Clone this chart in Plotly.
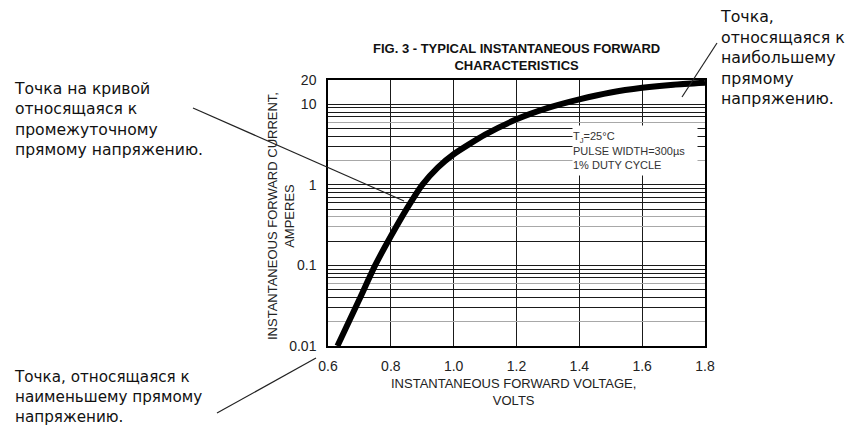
import plotly.graph_objects as go

# ---- data ----
voltage = [0.63, 0.70, 0.75, 0.80, 0.85, 0.90, 0.95, 1.00, 1.10, 1.20, 1.30, 1.40, 1.50, 1.60, 1.70, 1.80]
current = [0.01, 0.038, 0.10, 0.23, 0.50, 1.0, 1.65, 2.4, 4.2, 6.5, 9.0, 11.5, 14.0, 16.0, 17.5, 18.5]

x_ticks = [0.6, 0.8, 1.0, 1.2, 1.4, 1.6, 1.8]
x_ticktext = ["0.6", "0.8", "1.0", "1.2", "1.4", "1.6", "1.8"]
y_ticks = [0.01, 0.1, 1, 10, 20]
y_ticktext = ["0.01", "0.1", "1", "10", "20"]
y_minor_dark = [0.03, 0.04, 0.05, 0.07, 0.08, 0.09,
                0.2, 0.5, 0.6, 0.7, 0.8, 0.9,
                3, 4, 5, 7, 8, 9]
y_minor_light = [0.02, 0.06, 0.3, 0.4, 2, 6]

title_text = "<b>FIG. 3 - TYPICAL INSTANTANEOUS FORWARD<br>CHARACTERISTICS</b>"
xtitle_text = "INSTANTANEOUS FORWARD VOLTAGE,<br>VOLTS"
ytitle_text = "INSTANTANEOUS FORWARD CURRENT,<br>AMPERES"
cond_text = "T<sub>J</sub>=25°C<br>PULSE WIDTH=300µs<br>1% DUTY CYCLE"
note_mid = "Точка на кривой<br>относящаяся к<br>промежуточному<br>прямому напряжению."
note_low = "Точка, относящаяся к<br>наименьшему прямому<br>напряжению."
note_high = "Точка,<br>относящаяся к<br>наибольшему<br>прямому<br>напряжению."

# ---- layout geometry (window pixels); page body has an 8px margin ----
OFF = 8
W, H = 854 - OFF, 425 - OFF
L, R, T, B = 328, 705, 80, 346


def px(x, y):
    return (x - L) / (R - L), (B - y) / (B - T)


sans = "Liberation Sans, Arial, sans-serif"
deja = "DejaVu Sans, sans-serif"

fig = go.Figure()
fig.add_trace(go.Scatter(
    x=voltage, y=current, mode="lines",
    line=dict(color="black", width=6, shape="spline", smoothing=0.6),
    showlegend=False, hoverinfo="skip"))

fig.update_layout(
    width=W, height=H,
    margin=dict(l=L - OFF, r=854 - R, t=T - OFF, b=425 - B, pad=0),
    paper_bgcolor="white", plot_bgcolor="white",
    showlegend=False,
    xaxis=dict(
        range=[0.6, 1.8], tickvals=x_ticks, ticktext=x_ticktext,
        showgrid=True, gridcolor="#1a1a1a", gridwidth=1,
        showline=True, linecolor="black", linewidth=1.5, mirror=True,
        ticks="", ticklabelstandoff=6, zeroline=False,
        tickfont=dict(family=sans, size=14, color="#222"),
    ),
    yaxis=dict(
        type="log", range=[-2, 1.30103], tickvals=y_ticks, ticktext=y_ticktext,
        showgrid=True, gridcolor="#1a1a1a", gridwidth=1,
        showline=True, linecolor="black", linewidth=1.5, mirror=True,
        ticks="", ticklabelstandoff=7, zeroline=False,
        tickfont=dict(family=sans, size=14, color="#222"),
        minor=dict(tickvals=y_minor_dark, showgrid=True, gridcolor="#1a1a1a", gridwidth=1, ticks=""),
    ),
    yaxis2=dict(
        type="log", range=[-2, 1.30103], overlaying="y", side="left",
        tickvals=y_minor_light, showticklabels=False,
        showgrid=True, gridcolor="#a8a8a8", gridwidth=1, ticks="", zeroline=False,
    ),
)

# empty trace that switches on the light-grid axis
fig.add_trace(go.Scatter(x=[None], y=[None], yaxis="y2", showlegend=False, hoverinfo="skip"))

ann = []
cx, cy = px(516.5, 57)
ann.append(dict(text=title_text, x=cx, y=cy, xref="paper", yref="paper",
                xanchor="center", yanchor="middle", showarrow=False,
                font=dict(family=sans, size=13, color="#111")))
cx, cy = px(513, 392)
ann.append(dict(text=xtitle_text, x=cx, y=cy, xref="paper", yref="paper",
                xanchor="center", yanchor="middle", showarrow=False,
                font=dict(family=sans, size=13, color="#222")))
cx, cy = px(281, 216)
ann.append(dict(text=ytitle_text, x=cx, y=cy, xref="paper", yref="paper",
                xanchor="center", yanchor="middle", showarrow=False, textangle=-90,
                font=dict(family=sans, size=13, color="#222")))
cx, cy = px(635, 150.5)
ann.append(dict(text=cond_text, x=cx, y=cy, xref="paper", yref="paper",
                xanchor="center", yanchor="middle", showarrow=False,
                width=124, height=49, align="left", bgcolor="white", borderpad=0,
                font=dict(family=sans, size=11, color="#333")))
cx, cy = px(12, 119)
ann.append(dict(text=note_mid, x=cx, y=cy, xref="paper", yref="paper",
                xanchor="left", yanchor="middle", showarrow=False, align="left",
                font=dict(family=deja, size=15.6, color="#111")))
cx, cy = px(12, 397)
ann.append(dict(text=note_low, x=cx, y=cy, xref="paper", yref="paper",
                xanchor="left", yanchor="middle", showarrow=False, align="left",
                font=dict(family=deja, size=15.2, color="#111")))
cx, cy = px(718, 57.5)
ann.append(dict(text=note_high, x=cx, y=cy, xref="paper", yref="paper",
                xanchor="left", yanchor="middle", showarrow=False, align="left",
                font=dict(family=deja, size=15.8, color="#111")))
fig.update_layout(annotations=ann)

# leader lines from notes to the curve
leaders = [((193, 108), (404, 201)), ((217, 413), (316, 358)), ((717, 43), (682, 97))]
shapes = []
for (x0, y0), (x1, y1) in leaders:
    a0, b0 = px(x0, y0)
    a1, b1 = px(x1, y1)
    shapes.append(dict(type="line", xref="paper", yref="paper", x0=a0, y0=b0, x1=a1, y1=b1,
                       line=dict(color="#222", width=1.2)))
fig.update_layout(shapes=shapes)

fig.write_html("out.html")
